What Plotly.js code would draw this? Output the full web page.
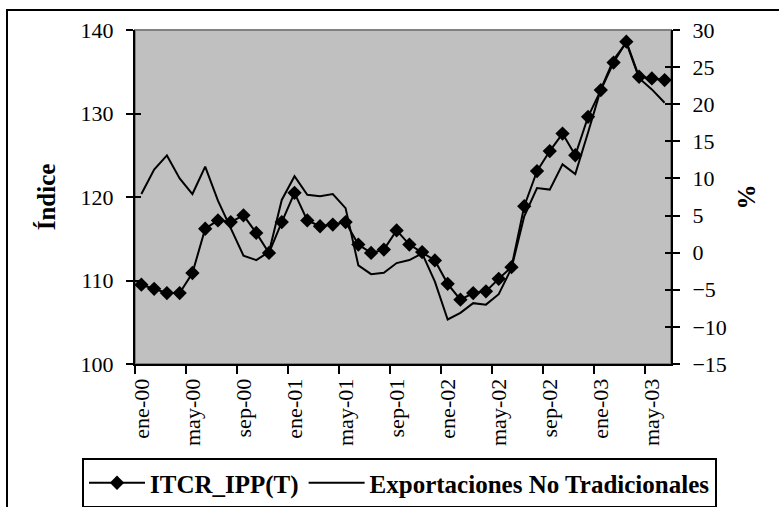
<!DOCTYPE html>
<html>
<head>
<meta charset="utf-8">
<script src="https://cdn.plot.ly/plotly-3.0.1.min.js"></script>
<style>html,body{margin:0;padding:0;background:#fff;}#chart{width:779px;height:507px;}</style>
</head>
<body>
<div id="chart"></div>
<script>
const months = ["ene-00","feb-00","mar-00","abr-00","may-00","jun-00","jul-00","ago-00","sep-00","oct-00","nov-00","dic-00",
  "ene-01","feb-01","mar-01","abr-01","may-01","jun-01","jul-01","ago-01","sep-01","oct-01","nov-01","dic-01",
  "ene-02","feb-02","mar-02","abr-02","may-02","jun-02","jul-02","ago-02","sep-02","oct-02","nov-02","dic-02",
  "ene-03","feb-03","mar-03","abr-03","may-03","jun-03"];
const itcr = [109.5,109.0,108.5,108.5,110.9,116.2,117.2,117.0,117.8,115.7,113.3,117.0,
  120.5,117.2,116.5,116.7,117.0,114.3,113.3,113.7,116.0,114.3,113.4,112.4,
  109.6,107.7,108.5,108.7,110.2,111.6,118.9,123.1,125.5,127.6,125.0,129.6,
  132.8,136.1,138.6,134.4,134.2,134.0];
const exportaciones = [7.9,11.2,13.1,10.0,7.9,11.6,7.0,3.4,-0.4,-1.0,0.1,7.1,
  10.3,7.8,7.6,7.9,6.0,-1.7,-2.9,-2.7,-1.4,-1.0,-0.1,-3.9,
  -9.0,-8.1,-6.8,-7.0,-5.6,-2.1,4.9,8.7,8.5,11.9,10.6,16.2,
  22.0,26.0,28.3,23.5,22.0,20.2];
const labelStep = 4;
const leftTicks = [100,110,120,130,140];
const rightTicks = [-15,-10,-5,0,5,10,15,20,25,30];

const F = "'Liberation Serif', 'Times New Roman', Times, serif";

const traces = [
  {x: months, y: itcr, name: 'ITCR_IPP(T)', type: 'scatter', mode: 'lines+markers',
   line: {color: '#000', width: 2}, marker: {symbol: 'diamond', size: 11, color: '#000'},
   xaxis: 'x', yaxis: 'y'},
  {x: months, y: exportaciones, name: 'Exportaciones No Tradicionales', type: 'scatter', mode: 'lines',
   line: {color: '#000', width: 2}, xaxis: 'x', yaxis: 'y2'},
  // empty helper traces so the inner tick axes are drawn (no marks)
  {x: [], y: [], type: 'scatter', mode: 'lines', xaxis: 'x', yaxis: 'y3', showlegend: false, hoverinfo: 'skip'},
  {x: [], y: [], type: 'scatter', mode: 'lines', xaxis: 'x', yaxis: 'y4', showlegend: false, hoverinfo: 'skip'}
];

const baseY = {showgrid: false, zeroline: false, showline: true, linecolor: '#000', linewidth: 2,
  ticks: 'outside', ticklen: 7, tickwidth: 2, tickcolor: '#000',
  tickfont: {family: F, size: 22, color: '#000'}};

const layout = {
  width: 779, height: 507,
  margin: {l: 135, r: 108, t: 30, b: 143, autoexpand: false},
  paper_bgcolor: '#fff', plot_bgcolor: '#c0c0c0',
  showlegend: true,
  xaxis: {type: 'category', range: [-0.5, months.length - 0.5], tickmode: 'linear', tick0: 0, dtick: labelStep,
    tickson: 'boundaries', ticks: 'outside', ticklen: 8, tickwidth: 2, tickcolor: '#000',
    tickangle: -90, showgrid: false, zeroline: false, showline: true,
    linecolor: '#000', linewidth: 2, ticklabelstandoff: 4,
    tickfont: {family: F, size: 22, color: '#000'}},
  yaxis: Object.assign({}, baseY, {range: [100, 140], tickmode: 'array', tickvals: leftTicks,
    ticklabelstandoff: 8,
    title: {text: 'Índice', font: {family: F, size: 25, color: '#000', weight: 'bold'}, standoff: 18}}),
  yaxis2: Object.assign({}, baseY, {overlaying: 'y', side: 'right', range: [-15, 30],
    tickmode: 'array', tickvals: rightTicks, ticklabelstandoff: 8,
    title: {text: '%', font: {family: F, size: 25, color: '#000', weight: 'bold'}, standoff: 12}}),
  yaxis3: {overlaying: 'y', range: [100, 140], tickmode: 'array', tickvals: leftTicks,
    ticks: 'inside', ticklen: 6, tickwidth: 2, tickcolor: '#000', showticklabels: false,
    showgrid: false, zeroline: false, showline: false},
  yaxis4: {overlaying: 'y', side: 'right', range: [-15, 30], tickmode: 'array', tickvals: rightTicks,
    ticks: 'inside', ticklen: 6, tickwidth: 2, tickcolor: '#000', showticklabels: false,
    showgrid: false, zeroline: false, showline: false},
  legend: {orientation: 'h', x: (82 - 135) / 536, y: (364 - 458) / 334, xanchor: 'left', yanchor: 'top',
    bgcolor: '#fff', bordercolor: '#000', borderwidth: 2, itemwidth: 56,
    font: {family: F, size: 25, color: '#000', weight: 'bold'}},
  shapes: [
    {type: 'rect', xref: 'paper', yref: 'paper', x0: 0, x1: 1, y0: 0, y1: 1,
     line: {color: '#808080', width: 2}, layer: 'below'},
    {type: 'rect', xref: 'paper', yref: 'paper', x0: (7 - 135) / 536, x1: (800 - 135) / 536,
     y0: (364 - 560) / 334, y1: (364 - 10) / 334, line: {color: '#000', width: 2}}
  ]
};

Plotly.newPlot('chart', traces, layout, {staticPlot: true, displayModeBar: false});
</script>
</body>
</html>
